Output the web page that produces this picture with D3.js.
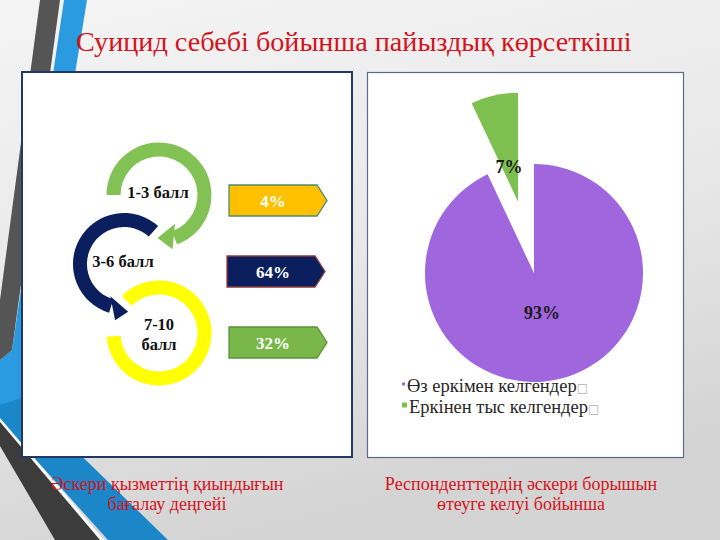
<!DOCTYPE html>
<html><head><meta charset="utf-8">
<script src="https://cdn.jsdelivr.net/npm/d3@7/dist/d3.min.js"></script>
<style>html,body{margin:0;padding:0;background:#e6e6e6;}svg{display:block;}</style>
</head><body>
<svg id="c" width="720" height="540"></svg>
<script>
// ---- data ----
const titleText = "Суицид себебі бойынша  пайыздық көрсеткіші";
const levels = ["1-3 балл", "3-6 балл", "7-10 балл"];
const levelShares = [4, 64, 32];
const levelColors = ["#ffc000", "#0b1f5e", "#79b74a"];
const ringColors = ["#82c153", "#0b1f5e", "#ffff00"];
const calloutBorders = ["#4e8a73", "#8e3b3b", "#5c9238"];
const pieLabels = ["Өз еркімен келгендер", "Еркінен тыс келгендер"];
const pieValues = [93, 7];
const pieColors = ["#a066de", "#7ec050"];
const captionLeft = ["Әскери қызметтің қиындығын", "бағалау деңгейі"];
const captionRight = ["Респонденттердің әскери борышын", "өтеуге келуі бойынша"];

const serif = "'Liberation Serif', 'Times New Roman', Tinos, serif";

const svg = d3.select("#c");
const defs = svg.append("defs");
const bg = defs.append("linearGradient").attr("id","bg").attr("x1",0).attr("y1",0).attr("x2",0.3).attr("y2",1);
bg.append("stop").attr("offset","0%").attr("stop-color","#f4f4f4");
bg.append("stop").attr("offset","55%").attr("stop-color","#e8e8e8");
bg.append("stop").attr("offset","100%").attr("stop-color","#d4d4d4");
svg.append("rect").attr("width",720).attr("height",540).attr("fill","url(#bg)");

// ---- decorative stripes ----
const deco = svg.append("g");
const poly = (pts, fill) => deco.append("polygon").attr("points", pts.map(p=>p.join(",")).join(" ")).attr("fill", fill);
poly([[64,0],[87,0],[22,400],[0,430],[0,360],[12,350]], "#2a9be0");
poly([[40,0],[60,0],[12,350],[0,360],[0,300]], "#555555");
poly([[0,405],[22,398],[168,540],[108,540],[0,420]], "#1b86c8");
poly([[0,418],[104,540],[100,540],[0,422]], "#ffffff");
poly([[0,422],[100,540],[55,540],[0,446]], "#3c3c3c");

// ---- title ----
const title = svg.append("text").attr("x", 76).attr("y", 51)
  .attr("font-family", serif).attr("font-size", 27).attr("fill","#d3141d").text(titleText);
{
  const w = title.node().getComputedTextLength();
  title.attr("font-size", 27 * 556 / w);
}

// ---- panels ----
svg.append("rect").attr("x",22).attr("y",72).attr("width",330).attr("height",385)
  .attr("fill","#ffffff").attr("stroke","#1f3864").attr("stroke-width",2);
svg.append("rect").attr("x",367.5).attr("y",72.5).attr("width",316).attr("height",385)
  .attr("fill","#ffffff").attr("stroke","#5d6a8c").attr("stroke-width",1.2);

// ---- cycle diagram ----
const rad = d => d * Math.PI / 180;
const ringY = d3.scalePoint().domain(levels).range([195, 333]);
const ringX = d3.scaleOrdinal().domain(levels).range([159, 124, 159]);
const rings = [
  {start: -90, end: 160, rin: 38.5, rout: 52.5, head: {inB: [33,151], outB: [56,166], tip: [43,182]}},
  {start: -163, end: 42, rin: 37, rout: 51, head: {inB: [35,-157], outB: [57,-171], tip: [48,-185]}},
  {start: -45, end: 266, rin: 38.5, rout: 52.5, head: null}
];
const order = [2, 1, 0];
const pt = (cx, cy, r, a) => [cx + r * Math.sin(rad(a)), cy - r * Math.cos(rad(a))];
order.forEach(i => {
  const name = levels[i], r = rings[i];
  const cx = ringX(name), cy = ringY(name);
  const g = svg.append("g");
  g.append("path").attr("transform", `translate(${cx},${cy})`)
    .attr("d", d3.arc().innerRadius(r.rin).outerRadius(r.rout)({startAngle: rad(r.start), endAngle: rad(r.end)}))
    .attr("fill", ringColors[i]);
  if (r.head) {
    const h = r.head;
    const p = [pt(cx,cy,h.inB[0],h.inB[1]), pt(cx,cy,h.tip[0],h.tip[1]), pt(cx,cy,h.outB[0],h.outB[1])];
    g.append("path").attr("d", d3.line()(p) + "Z").attr("fill", ringColors[i]);
  }
});
levels.forEach((name, i) => {
  const cx = ringX(name), cy = ringY(name);
  const t = svg.append("text").attr("text-anchor","middle").attr("font-family", serif)
    .attr("font-weight","bold").attr("font-size",16.5).attr("fill","#111");
  if (i === 2) {
    const parts = name.split(" ");
    t.append("tspan").attr("x", cx).attr("y", cy - 3).text(parts[0]);
    t.append("tspan").attr("x", cx).attr("y", cy + 17).text(parts[1]);
  } else {
    t.attr("x", cx - 1).attr("y", cy + 3).text(name);
  }
});

// ---- callouts ----
const callY = d3.scalePoint().domain(levels).range([200.5, 342.5]);
const callX0 = d3.scaleOrdinal().domain(levels).range([229, 227, 229]);
levels.forEach((name, i) => {
  const y = callY(name), x0 = callX0(name), h = 31, xr = x0 + 88, xt = x0 + 98;
  const p = [[x0, y - h/2], [xr, y - h/2], [xt, y], [xr, y + h/2], [x0, y + h/2]];
  svg.append("path").attr("d", d3.line()(p) + "Z").attr("fill", levelColors[i])
    .attr("stroke", calloutBorders[i]).attr("stroke-width", 1.3);
  svg.append("text").attr("x", 273).attr("y", y + 6).attr("text-anchor","middle")
    .attr("font-family", serif).attr("font-weight","bold").attr("font-size",17)
    .attr("fill","#ffffff").text(levelShares[i] + "%");
});

// ---- pie ----
const pcx = 534, pcy = 273, pr = 109, explode = 73;
const pie = d3.pie().sort(null)(pieValues);
const arc = d3.arc().innerRadius(0).outerRadius(pr);
const pg = svg.append("g").attr("transform", `translate(${pcx},${pcy})`);
pie.forEach((d, i) => {
  const mid = (d.startAngle + d.endAngle) / 2;
  const off = i === 1 ? explode : 0;
  const dx = off * Math.sin(mid), dy = -off * Math.cos(mid);
  pg.append("path").attr("transform", `translate(${dx},${dy})`).attr("d", arc(d)).attr("fill", pieColors[i]);
});
const pieLblPos = [[8, 46], [-25, -100]];
pie.forEach((d, i) => {
  pg.append("text").attr("x", pieLblPos[i][0]).attr("y", pieLblPos[i][1]).attr("text-anchor","middle")
    .attr("font-family", serif).attr("font-weight","bold").attr("font-size",18).attr("fill","#1a1a1a")
    .text(pieValues[i] + "%");
});

// ---- legend ----
const legY = d3.scalePoint().domain(pieLabels).range([392, 413]);
const markSize = [3, 5];
pieLabels.forEach((name, i) => {
  const y = legY(name), s = markSize[i];
  svg.append("rect").attr("x", 402).attr("y", y - 8 - s/2).attr("width", s).attr("height", s).attr("fill", pieColors[i]);
  const t = svg.append("text").attr("x", 403 + s + 1).attr("y", y)
    .attr("font-family", serif).attr("font-size", 18.5).attr("fill","#262626");
  t.append("tspan").text(name);
  t.append("tspan").attr("fill","#b0b0b0").attr("font-family","'DejaVu Sans'").attr("font-size",12).text("\u25A1");
});

// ---- captions ----
[[captionLeft, 167], [captionRight, 521]].forEach(([lines, cx]) => {
  lines.forEach((ln, j) => {
    svg.append("text").attr("x", cx).attr("y", 490 + j * 20).attr("text-anchor","middle")
      .attr("font-family", serif).attr("font-size", 18).attr("fill","#d3141d").text(ln);
  });
});
</script>
</body></html>
